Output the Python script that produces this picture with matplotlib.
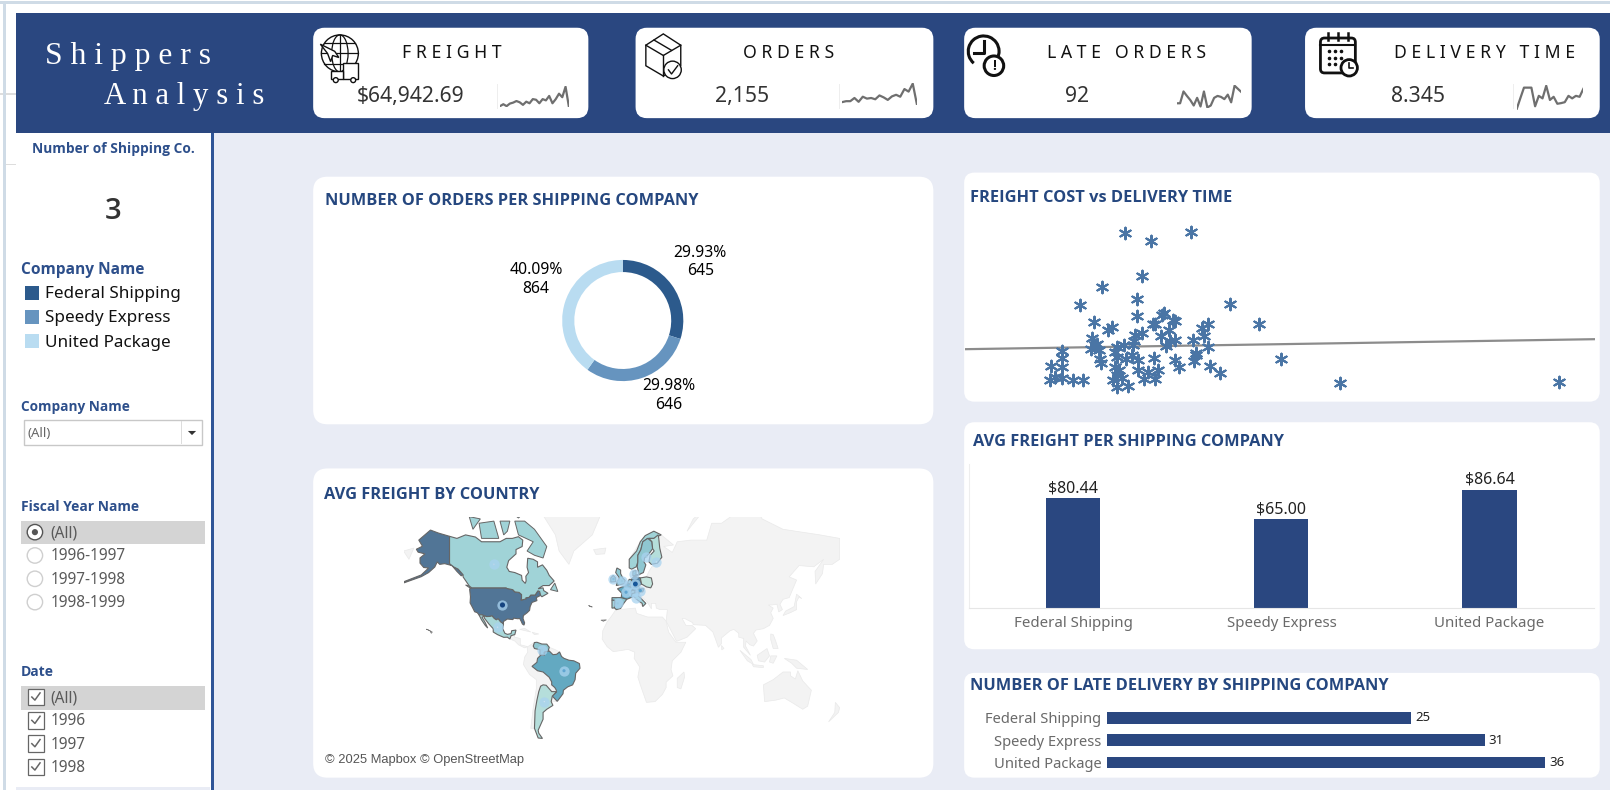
import numpy as np
import matplotlib
matplotlib.use('Agg')
import matplotlib.pyplot as plt
from matplotlib.patches import FancyBboxPatch, Rectangle, Circle, Ellipse, Wedge, Polygon
from matplotlib.colors import LinearSegmentedColormap, Normalize

plt.rcParams['font.family'] = ['Noto Sans', 'DejaVu Sans']

W, H = 1568.0, 769.0   # layout units, the picture scaled to 1568 wide
NAVY = '#2a4780'
TITLE = '#25477f'
BOLD = ['Open Sans', 'DejaVu Sans']

# ---- values ----
kpi_names = ['F R E I G H T', 'O R D E R S', 'L A T E   O R D E R S', 'D E L I V E R Y   T I M E']
kpi_values = ['$64,942.69', '2,155', '92', '8.345']

spark_freight = [1360, 1720, 1360, 1840, 2020, 2320, 2080, 1600, 2200, 1900, 2680, 2560, 1900, 2680, 2440, 3280, 1900, 2680, 3700, 3040, 5020, 1300]
spark_orders = [12, 15, 15, 25, 13, 29, 23, 25, 21, 33, 27, 19, 30, 35, 29, 53, 45, 70, 5]
spark_late = [40, 40, 77, 63, 50, 33, 57, 30, 77, 27, 33, 57, 63, 60, 53, 67, 43, 95, 85, 75]
spark_delivery = [5, 40, 74, 74, 74, 15, 48, 40, 80, 35, 45, 23, 25, 28, 48, 40, 48, 45, 70]

companies = ['Federal Shipping', 'Speedy Express', 'United Package']
company_colors = ['#2c5a8c', '#6694bf', '#b9dcf1']
orders = [645, 646, 864]
order_labels = ['29.93%\n645', '29.98%\n646', '40.09%\n864']
avg_freight = [80.44, 65.00, 86.64]
late_orders = [25, 31, 36]

scatter_x = [47.8, 54.3, 64.1, 52.1, 42.1, 50.9, 36.9, 73.5, 50.9, 40.3, 80.8, 57.4, 57.0, 59.7, 60.0, 54.8,
             55.2, 68.2, 66.8, 44.7, 43.6, 52.0, 50.2, 56.7, 58.6, 67.2, 64.6, 39.7, 60.0, 59.0, 50.0, 40.5,
             39.5, 41.0, 41.5, 32.3, 45.8, 47.5, 49.7, 57.8, 68.2, 65.3, 32.3, 29.8, 32.5, 41.8, 42.0, 45.5,
             46.0, 48.0, 49.5, 51.0, 55.0, 60.0, 64.8, 65.3, 86.0, 68.8, 61.0, 51.0, 56.0, 53.5, 71.2, 45.5,
             46.5, 45.8, 29.5, 30.8, 32.5, 35.1, 37.5, 45.0, 47.0, 52.5, 55.3, 45.8, 48.6, 100.6, 154.1]
scatter_y = [51.2, 48.8, 51.5, 38.2, 35.0, 31.4, 29.6, 29.8, 26.3, 24.4, 23.8, 27.2, 26.5, 25.2, 24.8, 24.0,
             23.8, 23.8, 22.6, 23.0, 22.0, 21.2, 20.6, 20.3, 22.2, 20.4, 19.2, 19.7, 19.0, 18.8, 18.8, 17.5,
             16.5, 18.0, 16.0, 15.8, 17.0, 17.5, 17.5, 17.2, 17.0, 15.2, 13.8, 11.2, 11.0, 13.5, 12.2, 15.5,
             14.0, 13.5, 14.5, 13.0, 13.8, 13.2, 12.8, 14.5, 13.5, 11.2, 11.0, 10.2, 10.0, 9.5, 9.2, 11.0,
             10.0, 8.5, 7.2, 8.0, 7.8, 7.2, 7.2, 7.0, 7.8, 7.5, 7.5, 5.0, 5.2, 6.2, 6.5]
trend_x = [8.7, 162.9]
trend_y = [16.3, 19.3]

# avg freight per country, and rough outlines (lon, lat)
country_freight = {'USA': 112, 'Alaska': 112, 'Canada': 51, 'Mexico': 45, 'Venezuela': 60, 'Brazil': 83,
                   'Argentina': 35, 'Norway': 51, 'Sweden': 60, 'Finland': 35, 'UK': 60, 'Ireland': 60,
                   'France': 83, 'Germany': 104, 'Poland': 24, 'Spain': 60, 'Portugal': 50, 'Italy': 50,
                   'Belgium': 60, 'Netherlands': 55, 'Denmark': 55, 'Austria': 80, 'Switzerland': 50}

country_shapes = {
    'USA': [(-124.7, 48.4), (-123, 49), (-95, 49), (-94.6, 48.7), (-89.6, 48), (-88, 46.8), (-84.5, 46.5), (-82.5, 45.3),
            (-82.5, 43), (-83, 42), (-79, 42.7), (-79, 43.4), (-76.5, 43.6), (-75, 45), (-71.5, 45), (-69.2, 47.4),
            (-67.8, 47), (-67, 44.8), (-70.5, 43.5), (-70, 41.7), (-74, 40.6), (-75.5, 38), (-76, 35.5), (-78, 33.9),
            (-81, 32), (-81.3, 30), (-80, 26.8), (-80.5, 25.2), (-81.8, 26), (-82.8, 28), (-84, 30), (-85.5, 29.8),
            (-89, 30.2), (-89.5, 29.2), (-91, 29.3), (-94, 29.6), (-97.2, 27.8), (-97.2, 26), (-99.5, 27.5),
            (-101.5, 29.8), (-103, 29), (-104.7, 30), (-106.5, 31.8), (-108.2, 31.4), (-111, 31.3), (-114.8, 32.5),
            (-117.1, 32.5), (-118.5, 34), (-120.6, 34.6), (-122.4, 37.5), (-124.3, 40.3), (-124, 44)],
    'Alaska': [(-141, 69.6), (-141, 60.3), (-137.5, 58.9), (-134, 58), (-130, 55.5), (-131.5, 55), (-135, 57), (-139, 59.5),
               (-145, 60.3), (-149, 60), (-151, 61), (-153, 58.9), (-158, 56.5), (-164, 54.6), (-178, 51.6), (-178, 52.2),
               (-164, 55.4), (-158, 58.5), (-162, 58.7), (-165, 60.5), (-165, 62.5), (-161, 64), (-166.5, 64.6), (-168, 65.6),
               (-163, 66.6), (-166, 68.5), (-156.5, 71.3), (-150, 70.5)],
    'Canada': [(-141, 69.6), (-135, 69), (-128, 70), (-120, 69.4), (-115, 68), (-108, 68), (-100, 68), (-95, 69), (-90, 69),
               (-85, 69.5), (-81.5, 68.5), (-82, 66.5), (-87, 65.5), (-87, 64), (-93, 61.5), (-94.5, 58.8), (-92.5, 57),
               (-88, 56.5), (-82.5, 55.2), (-82, 52.9), (-79.5, 51.3), (-78.8, 52.5), (-79, 54.8), (-76.8, 56.5), (-78, 58.8),
               (-77.5, 62.4), (-73, 62), (-69.5, 61), (-69.5, 58.8), (-65.5, 59.8), (-62, 57.5), (-60, 55.2), (-56, 52.5),
               (-60, 50.2), (-65, 50.2), (-69, 48.5), (-65, 49), (-64.5, 47.5), (-61, 46), (-66, 44), (-67, 44.8), (-67.8, 47),
               (-69.2, 47.4), (-71.5, 45), (-75, 45), (-76.5, 43.6), (-79, 43.4), (-79, 42.7), (-83, 42), (-82.5, 43),
               (-82.5, 45.3), (-84.5, 46.5), (-88, 46.8), (-89.6, 48), (-94.6, 48.7), (-95, 49), (-123, 49), (-125, 50),
               (-130, 54.5), (-130, 55.5), (-134, 58), (-137.5, 58.9), (-141, 60.3)],
    'Mexico': [(-117.1, 32.5), (-114.8, 32.5), (-111, 31.3), (-108.2, 31.4), (-106.5, 31.8), (-104.7, 30), (-103, 29),
               (-101.5, 29.8), (-99.5, 27.5), (-97.2, 26), (-97.8, 22.5), (-96, 19), (-94, 18.2), (-91, 18.8), (-90.5, 21),
               (-87, 21.5), (-88, 18), (-89, 17.8), (-91, 17.2), (-92, 14.6), (-94, 16), (-97, 15.9), (-102, 18), (-105.5, 20),
               (-105.5, 22.5), (-109, 26), (-112.5, 30), (-113, 31.3), (-114.7, 31), (-112, 27), (-110, 23), (-112, 25), (-115, 29)],
    'Venezuela': [(-72, 11.8), (-73, 9), (-72, 7), (-67.5, 6), (-67.5, 2), (-64, 1.5), (-64, 4), (-61, 4.5), (-60, 8),
                  (-62, 10.5), (-66, 10.6), (-68, 11.3), (-70, 12)],
    'Brazil': [(-51.6, 4.2), (-50, 0.5), (-48, -1), (-44, -2.5), (-40, -3), (-35.5, -5.2), (-35, -9), (-38.5, -13), (-39, -18),
               (-41, -22), (-45, -23.5), (-48.5, -26), (-48.8, -28.5), (-52, -32.2), (-53.5, -33.8), (-57.5, -30.2), (-54, -27),
               (-54.5, -25.5), (-55.5, -24), (-58, -22), (-58, -19.8), (-60, -16.2), (-65, -12), (-69.5, -11), (-74, -7.5),
               (-70, -4.2), (-69.5, -1), (-67, 1.5), (-64, 1.5), (-64, 4), (-60, 5), (-57, 2), (-54, 2.3)],
    'Argentina': [(-65, -22), (-62.5, -22.3), (-58, -27), (-54, -27), (-57.5, -30.2), (-58.4, -34), (-57, -36.5), (-62, -39),
                  (-65, -41), (-65, -45), (-69, -51), (-68.5, -52.5), (-65.5, -55), (-69, -54.8), (-72, -50), (-71.5, -40),
                  (-70, -33), (-68.5, -27), (-67, -23)],
    'Norway': [(5, 58.5), (7, 58), (10.7, 59), (12, 61), (12, 63.5), (14.5, 65.5), (16, 68), (20, 69), (25, 69), (29, 69.7),
               (31, 70), (25, 71), (18, 69.8), (14, 68), (11, 65), (5, 62)],
    'Sweden': [(11.5, 59), (13, 55.5), (14.5, 56), (16.5, 56.5), (18.5, 59.8), (17, 61), (17.5, 62.5), (21, 64), (24, 65.8),
               (23.5, 68), (20, 69), (16, 68), (14.5, 65.5), (12, 63.5), (12, 61)],
    'Finland': [(23, 60), (28, 60.5), (31.5, 62.8), (29.8, 66), (29, 69), (28.5, 70), (25, 69), (21, 69), (23.5, 68), (24, 65.8),
                (25.3, 65), (22, 63.5), (21, 61)],
    'UK': [(-5.5, 50.2), (1.3, 51.2), (1.7, 52.8), (-0.2, 54), (-2, 56), (-2, 57.6), (-5, 58.5), (-6, 56.5), (-3, 54), (-5, 52)],
    'Ireland': [(-10, 52), (-6, 52.2), (-6, 54), (-8, 55.2), (-10, 54)],
    'France': [(-4.5, 48.5), (-1, 46), (-1.5, 43.5), (3, 42.5), (7.5, 43.8), (7, 47.5), (8, 49), (2.5, 51), (1.5, 50)],
    'Germany': [(6, 51), (7, 53.5), (9, 54.8), (14, 54), (15, 51), (12.5, 50), (13.5, 48.5), (10, 47.5), (7.5, 47.7), (8, 49), (6, 49.5)],
    'Poland': [(14, 54), (19, 54.5), (23, 54), (24, 51), (22.5, 49), (19, 49.5), (15, 51)],
    'Spain': [(-9, 43.5), (-1.5, 43.5), (3, 42.5), (0, 39.5), (-2, 36.8), (-5.5, 36), (-7, 37.2), (-6.8, 41.8), (-9, 42)],
    'Portugal': [(-9, 37), (-7, 37.2), (-6.8, 41.8), (-9, 42)],
    'Italy': [(7, 44), (7.2, 46), (13, 46.5), (12.5, 44.5), (18.5, 40), (16, 38), (15.5, 40), (11, 42.5), (8.5, 44.3)],
    'Belgium': [(2.5, 51), (6, 50.8), (6, 49.5), (4, 50)],
    'Netherlands': [(3.5, 51.5), (5, 53.3), (7, 53.3), (6, 51)],
    'Denmark': [(8, 55), (8, 57), (10.5, 57.5), (10.5, 55), (12.5, 55.5)],
    'Austria': [(9.6, 47.3), (13.5, 48.5), (17, 48.5), (16, 46.8), (10, 46.8)],
    'Switzerland': [(6, 46.3), (7.5, 47.7), (9.6, 47.3), (10, 46.5), (7, 45.9)],
}

canada_islands = [
    [(-80, 73.5), (-72, 71.5), (-62, 66.5), (-65, 62.5), (-72, 63.5), (-78, 65), (-73, 68), (-85, 70), (-88, 73.5)],
    [(-117, 73), (-105, 73.5), (-101, 69), (-115, 69)],
    [(-92, 77), (-85, 83), (-62, 83), (-75, 78), (-80, 76.3)],
    [(-125, 74.5), (-116, 74), (-122, 71.5)],
    [(-96, 76.5), (-80, 75.5), (-85, 74.2)],
    [(-112, 77), (-100, 77), (-104, 74.8)],
    [(-100, 73.5), (-92, 73.5), (-94, 71), (-97, 70)],
    [(-120, 76), (-112, 75.8), (-116, 74.5)],
    [(-59, 48), (-55.5, 51.5), (-53, 47)],
    [(-128, 50.5), (-125, 50), (-123.5, 48.5)],
]

world_shapes = [
    [(-9, 37), (-9, 43.5), (-1.5, 43.5), (-1, 46), (-4.5, 48.5), (1.5, 51), (4, 52), (8, 54), (8, 57), (10.5, 57.5), (10.5, 54.5),
     (14, 54), (19, 54.5), (21, 57), (24, 59.5), (30, 60), (23, 60), (21, 61), (22, 63.5), (25.3, 65), (22, 66), (17, 62), (18, 60),
     (16.5, 56.5), (13, 55.5), (11, 59), (6, 58.5), (5, 62), (14, 68), (25, 71), (31, 70), (41, 67), (33, 66.5), (40, 64.5), (44, 68),
     (55, 68.5), (68, 68.5), (72, 73), (80, 73), (105, 77.5), (113, 74), (130, 71.5), (160, 70), (176, 69), (176, 65), (176, 62),
     (170, 60), (163, 60), (162, 56), (156.5, 51), (156, 57), (163, 62), (155, 59), (143, 59.5), (135, 54.5), (141, 53), (135, 43.5),
     (130, 42.5), (127.5, 39.5), (129.5, 36), (126.5, 34.5), (125, 39.5), (121, 39), (118, 39), (122, 37), (120, 34), (122, 30),
     (119, 25), (114, 22.5), (108, 21.5), (106, 19), (109, 13), (106, 9), (103, 10), (100, 13), (99.5, 9), (103.5, 1.5), (100.5, 5),
     (98, 8), (98, 15), (94, 16), (94, 19), (90, 22), (87, 21), (80, 15.5), (80, 11), (77.5, 8), (73, 20), (67, 25), (57, 25.5),
     (56.5, 27), (50, 30), (48, 30), (51, 25), (56, 25), (59, 22.5), (52, 16), (43.5, 12.7), (39, 21), (35, 28), (35.5, 32), (36, 36),
     (30, 36), (27, 37), (26.5, 40), (23, 40), (23, 36.5), (19.5, 41), (13, 45.5), (18.5, 40), (16, 38), (11, 42.5), (8.5, 44.3),
     (3.5, 43.3), (0, 39), (-2, 36.8), (-5.5, 36)],
    # Africa
    [(-6, 35.8), (10, 37), (11, 33.5), (20, 31), (32, 31), (35, 28), (37, 20), (43, 12), (51, 12), (47, 4), (40, -3), (39, -10), (40.5, -15),
     (35, -20), (35, -24), (32, -29), (26, -34), (19, -34.5), (14, -22), (12, -16), (13.5, -8), (9, -1), (9.5, 4), (4, 6.3), (-4, 5),
     (-8, 4.5), (-13, 8.5), (-17, 14.5), (-16.5, 21), (-13, 27.5), (-9.5, 31.5)],
    # north of South America, west coast
    [(-78, 8), (-72, 12), (-72, 7), (-67.5, 6), (-67.5, 2), (-69.5, -1), (-70, -4.2), (-74, -7.5), (-69.5, -11), (-65, -12), (-60, -16.2),
     (-58, -19.8), (-58, -22), (-54.5, -25.5), (-58, -27), (-62.5, -22.3), (-67, -23), (-68.5, -27), (-70, -33), (-71.5, -40), (-72, -50),
     (-75, -50), (-73, -38), (-70.5, -25), (-70.5, -18), (-76, -14), (-81, -6), (-80, 0), (-77.5, 4)],
    [(-60, 8), (-61, 4.5), (-60, 5), (-57, 2), (-54, 2.3), (-51.6, 4.2), (-55, 6)],
    [(-53.5, -33.8), (-57.5, -30.2), (-58.4, -34)],
    # central America
    [(-92, 14.6), (-91, 17.2), (-88.5, 17.8), (-88, 16), (-83.5, 15), (-83.5, 10), (-77.5, 8.5), (-80, 7.5), (-85, 10), (-88, 13)],
    [(-84, 22), (-75, 20), (-80, 22.8)],
    [(-74, 19.8), (-68.5, 18.5), (-72, 18)],
    # greenland, iceland
    [(-55, 82), (-20, 82), (-18, 75), (-25, 70), (-40, 65), (-44, 60), (-52, 65), (-55, 70), (-68, 76)],
    [(-24, 65.5), (-14, 66), (-15, 64), (-22, 63.8)],
    # arctic bits
    [(12, 79.5), (26, 80), (20, 77)],
    [(52, 71), (68, 76.5), (57, 74)],
    # alaska west end, faint
    [(-178.4, 65), (-170, 66), (-174, 62)],
    # australia, new zealand, madagascar, japan, indonesia, philippines
    [(114, -22), (122, -18), (130, -12), (136, -12), (136, -15), (140, -17.5), (142, -11), (146, -19), (153, -26), (150, -37), (146, -39),
     (138, -35), (131, -31.5), (124, -33), (115, -34)],
    [(172.5, -34.5), (176, -38), (175, -41), (167, -46.5), (172, -41)],
    [(49.5, -12), (50, -16), (47, -25), (44, -24), (44, -17)],
    [(130, 32), (136, 34), (141, 36), (141, 41), (143, 44), (145, 43), (141, 45.5), (139, 38), (132, 35)],
    [(95, 5.5), (104, -2), (106, -6), (101, -3)],
    [(105, -6), (114, -7), (114, -8.5), (106, -7.8)],
    [(109, 1.5), (117, 7), (119, 1), (115, -4), (110, -3)],
    [(120, 1), (125, 1), (122, -5), (119, -4)],
    [(131, -1), (141, -2.5), (150, -10), (141, -9), (137, -5)],
    [(120, 18.5), (122, 18), (124, 13), (126, 7), (122, 7), (120, 14)],
    [(80, 9.5), (82, 7), (80.2, 6)],
]
hawaii = [[(-160, 22.2), (-158, 21.5), (-155, 20), (-155.8, 19), (-157, 21)]]
atlantic_bits = [[(-28, 38.7), (-25, 37.7), (-27, 38)], [(-18, 28.8), (-13.5, 29), (-16, 28)]]

# marker positions: lon, lat, sized and shaded by freight
marker_lon = [-98, -105, -102, -66, -48, -64, 19, 27, -7.8, -1, 9, 10, 4.3, 2.4, 8, 14, 10.5, -4.3]
marker_lat = [39, 60, 23.6, 6, -11, -34, 63, 61, 53.5, 52.5, 56, 51, 50.5, 46.6, 46.8, 47.5, 43, 40]
marker_freight = [112, 40, 36, 48, 68, 30, 48, 30, 55, 50, 50, 104, 55, 68, 45, 70, 45, 50]


def merc(lat):
    return np.degrees(np.log(np.tan(np.pi / 4 + np.radians(lat) / 2)))


def project(pts):
    pts = np.array(pts, dtype=float)
    return np.column_stack([pts[:, 0], merc(pts[:, 1])])


fig = plt.figure(figsize=(16.1, 7.9), dpi=100)
canvas = fig.add_axes([0, 0, 1, 1])
canvas.set_xlim(0, W)
canvas.set_ylim(H, 0)
canvas.axis('off')


def inset(x0, y0, x1, y1):
    ax = fig.add_axes([x0 / W, 1 - y1 / H, (x1 - x0) / W, (y1 - y0) / H])
    ax.patch.set_alpha(0)
    return ax


def rbox(x0, y0, x1, y1, r=10, fc='white', ec='none', lw=0, z=2):
    canvas.add_patch(FancyBboxPatch((x0, y0), x1 - x0, y1 - y0, boxstyle='round,pad=0,rounding_size=%s' % r,
                                    fc=fc, ec=ec, lw=lw, zorder=z))


def rect(x0, y0, x1, y1, color, z=1):
    canvas.add_patch(Rectangle((x0, y0), x1 - x0, y1 - y0, fc=color, ec='none', zorder=z))


# ---- page background ----
rect(0, 0, W, H, 'white', 0)
rect(208, 129, W, H, '#e9ecf5')
rect(0, 1, W, 3.5, '#cfdbe6')
rect(2.5, 1, 5.5, H, '#cfdbe6')
rect(0, 91, 2.5, 92, '#dddddd')
rect(5.5, 91, 16, 92, '#dddddd')
rect(5.5, 160, 16, 161, '#dddddd')
rect(16, 766.5, 205, H, '#e9ecf5')
rect(16, 13, W, 129.5, NAVY)
rect(205.5, 129, 208.5, H, '#2f5597')

canvas.text(44, 55, 'S h i p p e r s', family=['Liberation Serif'], fontsize=22.8, color='white', va='center', zorder=3)
canvas.text(101, 94, 'A n a l y s i s', family=['Liberation Serif'], fontsize=22.2, color='white', va='center', zorder=3)

# ---- KPI cards ----
card_x = [(305, 573), (619, 909), (939, 1219), (1271, 1558)]
title_x = [440, 768, 1097, 1446]
value_x = [400, 723, 1049, 1381]
spark_box = [(487, 84, 554, 104), (820, 81, 893, 102), (1146, 83, 1209, 105), (1477, 83, 1542, 107)]
spark_sets = [spark_freight, spark_orders, spark_late, spark_delivery]
for i in range(4):
    rbox(card_x[i][0], 27, card_x[i][1], 115, r=11)
    canvas.text(title_x[i], 52, kpi_names[i], fontsize=12.7, color='#111111', ha='center', va='center', zorder=3)
    canvas.text(value_x[i], 94, kpi_values[i], fontsize=15.2, color='#333333', ha='center', va='center', zorder=3)
    ax = inset(*spark_box[i])
    ax.plot(spark_sets[i], color='#6f6f6f', lw=1.6)
    ax.margins(0, 0.02)
    ax.axis('off')
    rect(spark_box[i][0] - 3, 82, spark_box[i][0] - 2.4, 106, '#eeeeee', 3)

# icons, plain line drawings
ik = dict(fc='none', ec='#111111', zorder=4)
canvas.add_patch(Circle((331, 52), 18, lw=1, **ik))
canvas.add_patch(Ellipse((331, 52), 16, 36, lw=0.9, **ik))
canvas.plot([331, 331], [34, 70], color='#111111', lw=0.9, zorder=4)
canvas.plot([313, 349], [52, 52], color='#111111', lw=0.9, zorder=4)
canvas.plot([316, 346], [42, 42], color='#111111', lw=0.9, zorder=4)
canvas.plot([316, 346], [62, 62], color='#111111', lw=0.9, zorder=4)
canvas.add_patch(Polygon([(312, 43), (326, 50), (330, 56), (324, 54), (322, 60), (319, 52)], fc='white', ec='#111111', lw=1, zorder=5))
canvas.add_patch(Rectangle((334, 61), 15, 16, fc='white', ec='#111111', lw=1, zorder=5))
canvas.add_patch(Rectangle((322, 69), 12, 8, fc='white', ec='#111111', lw=1, zorder=5))
canvas.add_patch(Circle((327, 78), 2.4, fc='white', ec='#111111', lw=1, zorder=6))
canvas.add_patch(Circle((344, 78), 2.4, fc='white', ec='#111111', lw=1, zorder=6))

canvas.add_patch(Polygon([(629, 44), (646, 33), (663, 44), (663, 64), (646, 74), (629, 64)], lw=1, **ik))
canvas.plot([629, 646, 663], [44, 54, 44], color='#111111', lw=1, zorder=4)
canvas.plot([646, 646], [54, 74], color='#111111', lw=1, zorder=4)
canvas.plot([637, 654], [39, 49], color='#111111', lw=1, zorder=4)
canvas.add_patch(Circle((655, 68), 8.5, fc='white', ec='#111111', lw=1, zorder=5))
canvas.plot([651, 654, 660], [68, 72, 64], color='#111111', lw=1, zorder=6)

canvas.add_patch(Wedge((958, 50), 16.5, 130, 30, width=3, fc='#111111', ec='none', zorder=4))
canvas.plot([958, 958, 949], [40, 52, 52], color='#111111', lw=2.2, zorder=4)
canvas.add_patch(Circle((968, 64), 9.5, fc='white', ec='#111111', lw=2.2, zorder=5))
canvas.text(968, 64, '!', fontsize=10, family=BOLD, fontweight='bold', color='#111111', ha='center', va='center', zorder=6)

rbox(1286, 37, 1320, 71, r=4, fc='none', ec='#111111', lw=2, z=4)
canvas.plot([1286, 1320], [44, 44], color='#111111', lw=1.5, zorder=4)
for cx in [1293, 1303, 1313]:
    canvas.plot([cx, cx], [32, 39], color='#111111', lw=1.8, zorder=5)
canvas.scatter([1294, 1300, 1306, 1294, 1300, 1306, 1294, 1300], [50, 50, 50, 56, 56, 56, 62, 62], s=2.5, color='#111111', zorder=5)
canvas.add_patch(Circle((1314, 66), 8, fc='white', ec='#111111', lw=2, zorder=5))
canvas.plot([1314, 1314, 1318], [61, 66, 66], color='#111111', lw=1.2, zorder=6)

# ---- sidebar ----
side = dict(color='#2d4f8b', family=BOLD, fontweight='bold', va='center', zorder=3)
canvas.text(110, 145, 'Number of Shipping Co.', fontsize=9.9, ha='center', **side)
canvas.text(110, 206, '3', fontsize=21, color='#333333', family=BOLD, fontweight='semibold', ha='center', va='center', zorder=3)
canvas.text(20, 263, 'Company Name', fontsize=11.2, **side)
for i, name in enumerate(companies):
    yy = 285 + i * 23.5
    rect(24, yy - 7, 38, yy + 7, company_colors[i], 3)
    canvas.text(44, yy + 1.5, name, fontsize=12.3, color='#111111', va='center', zorder=3)
canvas.text(20, 396, 'Company Name', fontsize=9.8, **side)
canvas.add_patch(Rectangle((23, 409), 174, 24, fc='white', ec='#c8c8c8', lw=1, zorder=3))
rect(176, 410, 177, 432, '#dddddd', 4)
canvas.add_patch(Polygon([(183, 419.5), (191, 419.5), (187, 423.5)], fc='#333333', ec='none', zorder=4))
canvas.text(27, 422, '(All)', fontsize=9.5, color='#666666', va='center', zorder=4)

canvas.text(20, 494, 'Fiscal Year Name', fontsize=10, **side)
rect(20, 507, 200, 530, '#d4d4d4', 2)
fiscal_items = ['(All)', '1996-1997', '1997-1998', '1998-1999']
for i, name in enumerate(fiscal_items):
    yy = 518 + i * 22.7
    ec = '#555555' if i == 0 else '#cfcfcf'
    canvas.add_patch(Circle((34, yy), 7.5, fc='white', ec=ec, lw=1, zorder=3))
    if i == 0:
        canvas.add_patch(Circle((34, yy), 3, fc='#555555', ec='none', zorder=4))
    canvas.text(49, yy + 1, name, fontsize=11.1, color='#5a5a5a', va='center', zorder=3)

canvas.text(20, 654, 'Date', fontsize=10, **side)
rect(20, 668, 200, 691, '#d4d4d4', 2)
date_items = ['(All)', '1996', '1997', '1998']
for i, name in enumerate(date_items):
    yy = 678.5 + i * 22.7
    canvas.add_patch(Rectangle((27, yy - 8), 16, 16, fc='white', ec='#666666', lw=0.9, zorder=3))
    canvas.plot([31, 34, 39], [yy, yy + 3, yy - 4], color='#666666', lw=1.1, zorder=4)
    canvas.text(49, yy + 1, name, fontsize=11.1, color='#5a5a5a', va='center', zorder=3)

# ---- panels ----
rbox(305, 172, 909, 413, r=14)
rbox(305, 456, 909, 757, r=14)
rbox(939, 168, 1558, 391, r=10)
rbox(939, 411, 1558, 632, r=10)
rbox(939, 655, 1558, 757, r=10)
ttl = dict(family=BOLD, fontweight='bold', color=TITLE, va='center', zorder=3)
canvas.text(317, 196, 'NUMBER OF ORDERS PER SHIPPING COMPANY', fontsize=11.75, **ttl)
canvas.text(316, 482, 'AVG FREIGHT BY COUNTRY', fontsize=11.75, **ttl)
canvas.text(945, 193, 'FREIGHT COST vs DELIVERY TIME', fontsize=11.75, **ttl)
canvas.text(948, 430, 'AVG FREIGHT PER SHIPPING COMPANY', fontsize=11.75, **ttl)
canvas.text(945, 668, 'NUMBER OF LATE DELIVERY BY SHIPPING COMPANY', fontsize=11.75, **ttl)

# ---- donut ----
ax = inset(546.5, 252, 666.5, 372)
ax.pie(orders, colors=company_colors, startangle=90, counterclock=False, radius=1.0,
       wedgeprops=dict(width=0.2, linewidth=0))
ax.set_xlim(-1.017, 1.017)
ax.set_ylim(-1.017, 1.017)
label_pos = [(682, 255), (651, 385), (522, 272)]
for (lx, ly), txt in zip(label_pos, order_labels):
    canvas.text(lx, ly, txt, fontsize=11.3, color='black', ha='center', va='center', linespacing=1.2, zorder=3)

# ---- map ----
ax = inset(393, 503, 818, 719)
cmap = LinearSegmentedColormap.from_list('freight', ['#c8e8de', '#9fd2d7', '#62a9c1', '#4f7092'])
norm = Normalize(20, 115)
land = dict(fc='#f3f3f3', ec='#e9e9e9', lw=0.5, zorder=1)
for shape in world_shapes:
    ax.add_patch(Polygon(project(shape), **land))
for shape in hawaii + atlantic_bits:
    ax.add_patch(Polygon(project(shape), fc='#bbbbbb', ec='#777777', lw=0.5, zorder=1))
for shape in canada_islands:
    ax.add_patch(Polygon(project(shape), fc=cmap(norm(country_freight['Canada'])), ec='#666666', lw=0.7, zorder=2))
for name, shape in country_shapes.items():
    ax.add_patch(Polygon(project(shape), fc=cmap(norm(country_freight[name])), ec='#666666', lw=0.8, zorder=2))
sizes = np.array(marker_freight)
ax.scatter(marker_lon, merc(np.array(marker_lat, dtype=float)), s=55, color='#a9d3f0', alpha=0.75, linewidths=0, zorder=3)
ax.scatter(marker_lon, merc(np.array(marker_lat, dtype=float)), s=(sizes / 30.0) ** 2, c=sizes, cmap='Blues',
           vmin=10, vmax=115, alpha=0.9, linewidths=0, zorder=4)
ax.set_xlim(-178.4, 176.2)
ax.set_ylim(-66.3, 114.2)
ax.axis('off')
canvas.text(317, 740, '© 2025 Mapbox © OpenStreetMap', family=['Liberation Sans'], fontsize=9.3, color='#555555',
            va='center', zorder=3)

# ---- scatter ----
ax = inset(940, 215, 1553, 385)
ax.plot(trend_x, trend_y, color='#8c8c8c', lw=1.6, zorder=2)
ax.scatter(scatter_x, scatter_y, marker=(6, 2, 0), s=70, color='#4a75a5', linewidths=1.5, zorder=3)
ax.set_xlim(8.7, 162.9)
ax.set_ylim(2.4, 54.8)
ax.axis('off')

# ---- avg freight bars ----
ax = inset(944, 452, 1552, 592)
ax.bar(companies, avg_freight, width=0.26, color=NAVY)
ax.set_xlim(-0.5, 2.5)
ax.set_ylim(0, 105.2)
for i, v in enumerate(avg_freight):
    ax.text(i, v + 1.6, '$%.2f' % v, fontsize=11.5, color='#222222', ha='center', va='bottom')
ax.tick_params(axis='x', length=0, labelsize=10.8, labelcolor='#6a6a6a', pad=6)
ax.set_yticks([])
for s in ['top', 'right']:
    ax.spines[s].set_visible(False)
ax.spines['left'].set_color('#eeeeee')
ax.spines['bottom'].set_color('#e6e6e6')

# ---- late orders bars ----
ax = inset(1078, 688, 1555, 753)
ax.barh(companies, late_orders, height=0.52, color=NAVY)
ax.set_ylim(2.5, -0.5)
ax.set_xlim(0, 40.2)
for i, v in enumerate(late_orders):
    ax.text(v + 0.35, i, str(v), fontsize=9.5, color='#222222', ha='left', va='center')
ax.tick_params(axis='y', length=0, labelsize=10.6, labelcolor='#6a6a6a', pad=4)
ax.set_xticks([])
for s in ax.spines.values():
    s.set_visible(False)

fig.savefig('out.png', dpi=100)
